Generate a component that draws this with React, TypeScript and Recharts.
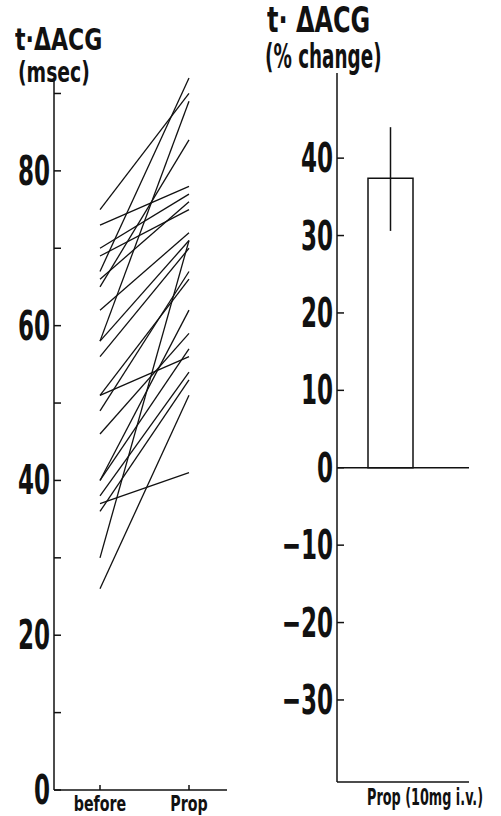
import React from "react";
import {
  LineChart,
  Line,
  BarChart,
  Bar,
  ErrorBar,
  XAxis,
  YAxis,
  ReferenceLine,
} from "recharts";

// left panel: t-ΔACG (msec), each subject before / after propranolol
const groups = ["before", "Prop"];
const beforeMs = [75, 73, 70, 69, 67, 66, 65, 62, 58, 58, 56, 51, 51, 49, 46, 40, 40, 38, 37, 36, 30, 26];
const propMs = [90, 78, 77, 75, 92, 76, 84, 72, 89, 71, 70, 56, 66, 67, 59, 62, 57, 54, 41, 53, 71, 51];
const msTicks = [0, 10, 20, 30, 40, 50, 60, 70, 80, 90];
const msLabeled = [0, 20, 40, 60, 80];

// right panel: % change
const changeCats = ["Prop (10mg i.v.)"];
const changeMean = [37.4];
const changeErr = [[6.8, 6.6]];
const pctTicks = [-30, -20, -10, 0, 10, 20, 30, 40];

const FONT = "'Liberation Sans Narrow', 'DejaVu Sans Condensed', 'Liberation Sans', sans-serif";

const lineData = groups.map((g, i) => {
  const row: any = { group: g };
  beforeMs.forEach((b, k) => {
    row["s" + k] = i === 0 ? b : propMs[k];
  });
  return row;
});

const barData = changeCats.map((c, i) => ({ cat: c, pct: changeMean[i], err: changeErr[i] }));

const YTick = (props: any) => {
  const { x, y, payload, show } = props;
  const v = payload.value;
  const txt = v < 0 ? "\u2212" + Math.abs(v) : String(v);
  return (
    <g>
      <line x1={x} x2={x + 7} y1={y} y2={y} stroke="#111" strokeWidth={1.5} />
      {show(v) && (
        <text
          transform={`translate(${x - 4},${y + 14}) scale(0.64,1)`}
          textAnchor="end"
          fontFamily={FONT}
          fontWeight="bold"
          fontSize={40}
          fill="#111"
        >
          {txt}
        </text>
      )}
    </g>
  );
};

const GroupTick = (props: any) => {
  const { x, y, payload } = props;
  return (
    <g>
      <line x1={x} x2={x} y1={y} y2={y - 5} stroke="#111" strokeWidth={1.5} />
      <text
        transform={`translate(${x},${y + 21}) scale(0.72,1)`}
        textAnchor="middle"
        fontFamily={FONT}
        fontWeight="bold"
        fontSize={22}
        fill="#111"
      >
        {payload.value}
      </text>
    </g>
  );
};

const DoseTick = (props: any) => {
  const { x, y, payload } = props;
  return (
    <text
      transform={`translate(${x - 23},${y + 23}) scale(0.62,1)`}
      textAnchor="start"
      fontFamily={FONT}
      fontWeight="bold"
      fontSize={23}
      fill="#111"
    >
      {payload.value}
    </text>
  );
};

const titleStyle: React.CSSProperties = {
  position: "absolute",
  fontFamily: FONT,
  fontWeight: "bold",
  color: "#111",
  whiteSpace: "nowrap",
  transformOrigin: "0 0",
  lineHeight: 0.85,
};

export default function App() {
  return (
    <div style={{ position: "absolute", left: 0, top: 0, width: 501, height: 816, background: "#fff" }}>
      <div style={{ position: "absolute", left: 0, top: 0 }}>
        <LineChart width={250} height={816} data={lineData} margin={{ top: 78, right: 23, bottom: 25, left: 0 }}>
          <XAxis
            dataKey="group"
            type="category"
            padding={{ left: 46, right: 38 }}
            height={1}
            axisLine={{ stroke: "#111", strokeWidth: 1.5 }}
            tickLine={false}
            tickSize={0}
            tickMargin={0}
            tick={<GroupTick />}
            interval={0}
          />
          <YAxis
            width={54}
            domain={[0, 92]}
            ticks={msTicks}
            interval={0}
            axisLine={{ stroke: "#111", strokeWidth: 1.5 }}
            tickLine={false}
            tickSize={0}
            tickMargin={0}
            tick={<YTick show={(v: number) => msLabeled.includes(v)} />}
          />
          {beforeMs.map((_, k) => (
            <Line
              key={k}
              dataKey={"s" + k}
              stroke="#111"
              strokeWidth={1.3}
              dot={false}
              isAnimationActive={false}
            />
          ))}
        </LineChart>
      </div>
      <div style={{ position: "absolute", left: 250, top: 0 }}>
        <BarChart width={251} height={816} data={barData} margin={{ top: 73, right: 32, bottom: 33, left: 30 }}>
          <XAxis
            dataKey="cat"
            padding={{ left: 0, right: 26 }}
            height={1}
            axisLine={{ stroke: "#111", strokeWidth: 1.5 }}
            tickLine={false}
            tickSize={0}
            tickMargin={0}
            tick={<DoseTick />}
            interval={0}
          />
          <YAxis
            width={57}
            domain={[-40.6, 51]}
            ticks={pctTicks}
            interval={0}
            allowDataOverflow
            axisLine={{ stroke: "#111", strokeWidth: 1.5 }}
            tickLine={false}
            tickSize={0}
            tickMargin={0}
            tick={<YTick show={() => true} />}
          />
          <ReferenceLine y={0} stroke="#111" strokeWidth={1.5} />
          <Bar dataKey="pct" barSize={45} fill="#fff" stroke="#111" strokeWidth={1.5} isAnimationActive={false}>
            <ErrorBar dataKey="err" width={0} stroke="#111" strokeWidth={1.5} direction="y" />
          </Bar>
        </BarChart>
      </div>
      <div style={{ ...titleStyle, left: 15, top: 26, fontSize: 31, transform: "scale(0.79,1)" }}>t·ΔACG</div>
      <div style={{ ...titleStyle, left: 18, top: 60, fontSize: 29, transform: "scale(0.72,1)" }}>(msec)</div>
      <div style={{ ...titleStyle, left: 267, top: 5, fontSize: 36, transform: "scale(0.74,1)" }}>t· ΔACG</div>
      <div style={{ ...titleStyle, left: 265, top: 42, fontSize: 34, transform: "scale(0.6,1)" }}>(% change)</div>
    </div>
  );
}
